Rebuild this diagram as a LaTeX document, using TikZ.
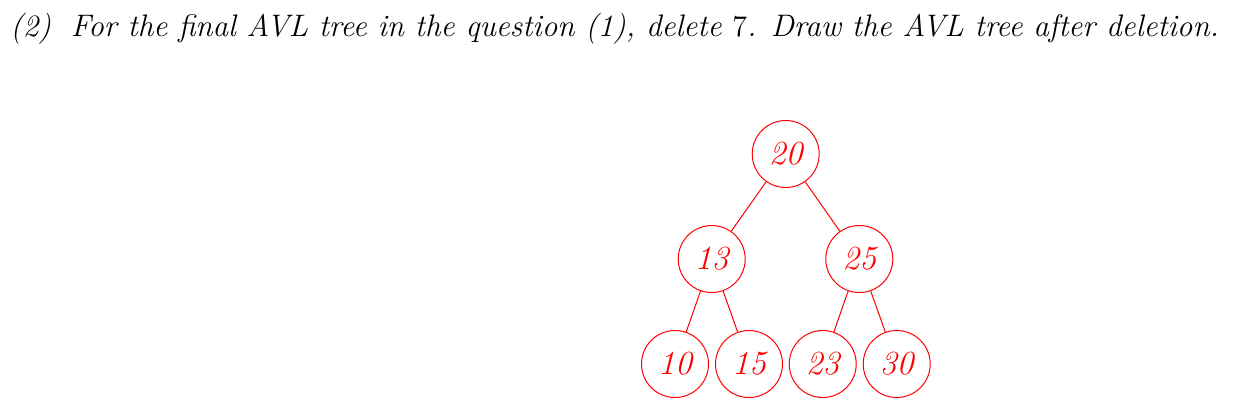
\documentclass[tikz,border=0pt]{standalone}
\begin{document}
\begin{tikzpicture}[x=0.4pt,y=-0.4pt,
  treenode/.style={circle, draw=red, text=red, minimum size=26.8pt, inner sep=0pt,
    font=\fontsize{13.5}{16}\selectfont\itshape, line width=0.4pt},
  treeedge/.style={draw=red, line width=0.4pt},
  titletext/.style={anchor=base west, inner sep=0pt, font=\fontsize{12.45}{15}\selectfont\itshape}]
\useasboundingbox (0,0) rectangle (1251,414);
\node[titletext] (title) at (10,36) {(2)\hspace{3.6pt} For the final AVL tree in the question (1), delete $7$. Draw the AVL tree after deletion.};
\node[treenode] (n20) at (785.7,154) {20};
\node[treenode] (n13) at (711.7,259) {13};
\node[treenode] (n25) at (859.3,259) {25};
\node[treenode] (n10) at (675,364) {10};
\node[treenode] (n15) at (749,364) {15};
\node[treenode] (n23) at (822.7,364) {23};
\node[treenode] (n30) at (896.7,364) {30};
\draw[treeedge] (n20) -- (n13);
\draw[treeedge] (n20) -- (n25);
\draw[treeedge] (n13) -- (n10);
\draw[treeedge] (n13) -- (n15);
\draw[treeedge] (n25) -- (n23);
\draw[treeedge] (n25) -- (n30);
\end{tikzpicture}
\end{document}
